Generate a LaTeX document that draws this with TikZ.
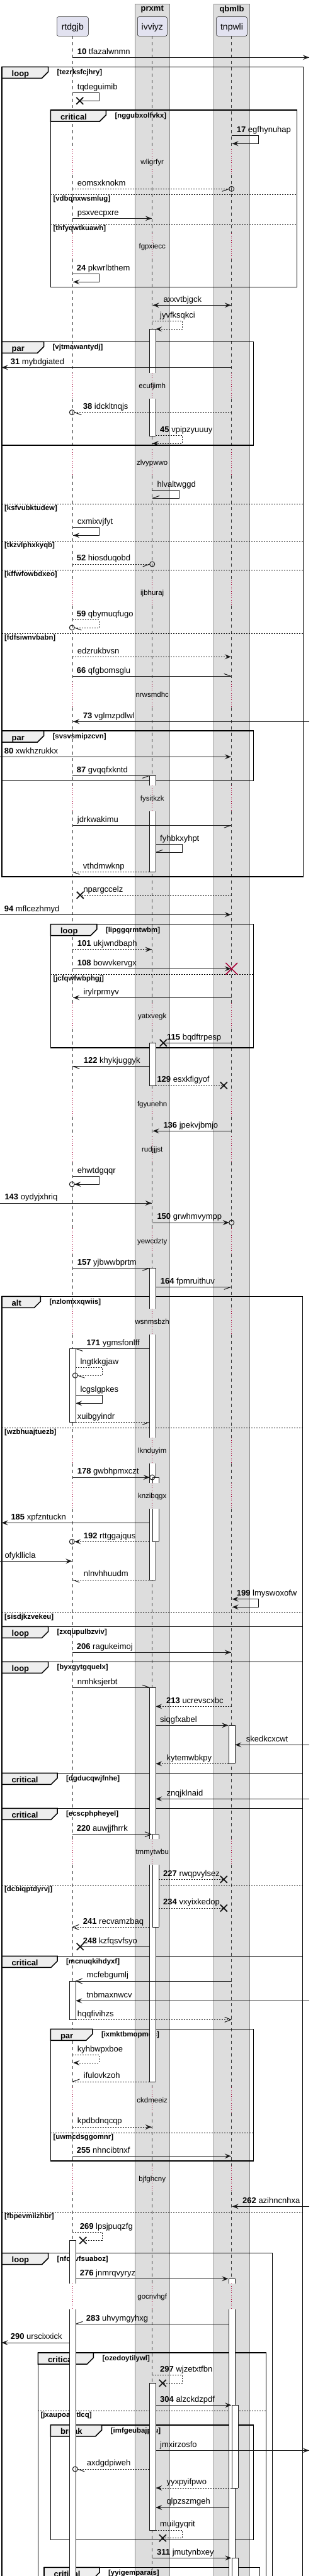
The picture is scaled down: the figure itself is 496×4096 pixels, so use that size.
\documentclass[tikz,border=0pt]{standalone}
\usepackage{fontspec}
\setmainfont{Liberation Sans}
\usetikzlibrary{arrows.meta}
\definecolor{ln}{HTML}{181818}
\definecolor{partfill}{HTML}{E2E2F0}
\definecolor{boxfill}{HTML}{DDDDDD}
\definecolor{boxline}{HTML}{888888}
\definecolor{tabfill}{HTML}{EEEEEE}
\definecolor{delayred}{HTML}{A80036}
\newcommand\fmsg{\fontsize{13}{15}\selectfont}
\newcommand\tipR[2]{\fill[ln] (#1,#2) -- ({#1-10},{#2-4}) -- ({#1-6},#2) -- ({#1-10},{#2+4}) -- cycle;}
\newcommand\tipL[2]{\fill[ln] (#1,#2) -- ({#1+10},{#2-4}) -- ({#1+6},#2) -- ({#1+10},{#2+4}) -- cycle;}
\newcommand\openR[2]{\draw[msgl] ({#1-10},{#2-4}) -- (#1,#2) -- ({#1-10},{#2+4});}
\newcommand\openL[2]{\draw[msgl] ({#1+10},{#2-4}) -- (#1,#2) -- ({#1+10},{#2+4});}
\newcommand\halfR[3]{\draw[msgl] (#1,#2) -- ({#1-11},{#2+#3});}
\newcommand\halfL[3]{\draw[msgl] (#1,#2) -- ({#1+11},{#2+#3});}
\newcommand\xmk[3]{\draw[ln,line width=1.8] ({#1-#3},{#2-#3}) -- ({#1+#3},{#2+#3}) ({#1-#3},{#2+#3}) -- ({#1+#3},{#2-#3});}
\newcommand\ocend[2]{\draw[ln,line width=1] (#1,#2) circle[radius=4];}
\newcommand\mlab[4]{\node[msgtxt] (#1) at (#2,{#3-5.3}) {#4};}
\newcommand\mact[5]{%
  \fill[white] (#1,#2) rectangle ({#1+10},#3);
  \draw[actline] (#1,#2) -- (#1,#3) ({#1+10},#2) -- ({#1+10},#3);
  \ifnum#4=1 \draw[actline] (#1,#2) -- ({#1+10},#2);\fi
  \ifnum#5=1 \draw[actline] (#1,#3) -- ({#1+10},#3);\fi}
\newcommand\frm[8]{%
  \draw[frameline] (#1,#2) rectangle (#3,#4);
  \filldraw[tabst] (#1,#2) -- ({#1+#5},#2) -- ({#1+#5},{#2+8}) -- ({#1+#5-10},{#2+18}) -- (#1,{#2+18}) -- cycle;
  \node[tabtxt] (#8k) at ({#1+15.5},{#2+15}) {#6};
  \node[guardtxt] (#8g) at ({#1+#5+14},{#2+12.3}) {#7};}
\newcommand\fsep[5]{%
  \draw[sepline] (#1,#3) -- (#2,#3);
  \node[guardtxt] (#5) at ({#1+4},{#3+10.4}) {#4};}
\newcommand\dly[3]{\node[delaytxt] (#1) at (241.7,{#2+3}) {#3};}
\newcommand\nb[1]{\textbf{#1}}
\begin{document}
\begin{tikzpicture}[x=1pt,y=-1pt,
  msgl/.style={draw=ln,line width=1},
  msgd/.style={draw=ln,line width=1,dash pattern=on 2pt off 2pt},
  lifeline/.style={draw=ln!85,line width=0.6,dash pattern=on 5pt off 5pt},
  delayline/.style={draw=delayred,line width=0.8,dash pattern=on 1pt off 2.5pt},
  frameline/.style={draw=black,line width=1.5},
  tabst/.style={fill=tabfill,draw=black,line width=1.5},
  sepline/.style={draw=black,line width=1,dash pattern=on 2pt off 2pt},
  actline/.style={draw=ln,line width=1},
  msgtxt/.style={anchor=base west,inner sep=0,font=\fmsg},
  delaytxt/.style={anchor=base,inner sep=0,font=\fontsize{11.5}{13}\selectfont},
  tabtxt/.style={anchor=base west,inner sep=0,font=\bfseries\fontsize{13}{15}\selectfont},
  guardtxt/.style={anchor=base west,inner sep=0,font=\bfseries\fontsize{11.4}{13}\selectfont},
  part/.style={draw=ln,line width=0.5,fill=partfill,rounded corners=2.5pt,inner sep=0,font=\fontsize{14}{16}\selectfont},
  grp/.style={fill=boxfill,draw=boxline,line width=1}]
\useasboundingbox (0,0) rectangle (496,4096);
\fill[white] (0,0) rectangle (496,4096);
% group boxes
\filldraw[grp] (214.3,6.3) rectangle (269.3,4120);
\filldraw[grp] (339.7,6.3) rectangle (396.3,4120);
\node[inner sep=0,font=\bfseries\fontsize{13}{15}\selectfont] (gprxmt) at (241.8,15) {prxmt};
\node[inner sep=0,font=\bfseries\fontsize{13}{15}\selectfont] (gqbmlb) at (368,15) {qbmlb};
% participants
\node[part,minimum width=50pt,minimum height=30.6pt] (rtdgjb) at (115.3,42) {};
\node[part,minimum width=47pt,minimum height=30.6pt] (ivviyz) at (241.8,42) {};
\node[part,minimum width=48.6pt,minimum height=30.6pt] (tnpwli) at (368,42) {};
\node[inner sep=0,font=\fontsize{14}{16}\selectfont] (trtdgjb) at (115.3,43.8) {rtdgjb};
\node[inner sep=0,font=\fontsize{14}{16}\selectfont] (tivviyz) at (241.8,43.8) {ivviyz};
\node[inner sep=0,font=\fontsize{14}{16}\selectfont] (ttnpwli) at (368,43.8) {tnpwli};
% lifelines
\foreach \x in {115.3,241.7,367.7}{
  \foreach \a/\b in {57.3/237.3,278.3/371,412/593,634/715.3,756.3/922,963/1084.3,1125.3/1249.3,1290.3/1595.3,1636.3/1735,1776/1807,1848/1953.3,1994.3/2081,2122/2286.3,2327.3/2358,2399/2924.3,2965.3/3319.3,3360.3/3444,3485/3631.3,3672.3/4110}
    \draw[lifeline] (\x,\a) -- (\x,\b);
  \foreach \a/\b in {237.3/278.3,371/412,593/634,715.3/756.3,922/963,1084.3/1125.3,1249.3/1290.3,1595.3/1636.3,1735/1776,1807/1848,1953.3/1994.3,2081/2122,2286.3/2327.3,2358/2399,2924.3/2965.3,3319.3/3360.3,3444/3485,3631.3/3672.3}
    \draw[delayline] (\x,\a) -- (\x,\b);
}
% delay texts
\dly{d1}{258.3}{wligrfyr}
\dly{d2}{392}{fgpxiecc}
\dly{d3}{614}{ecufjimh}
\dly{d4}{736.3}{zlvypwwo}
\dly{d5}{943}{ijbhuraj}
\dly{d6}{1105.3}{nrwsmdhc}
\dly{d7}{1270.3}{fysitkzk}
\dly{d8}{1616.3}{yatxvegk}
\dly{d9}{1756}{fgyunehn}
\dly{d10}{1828}{rudjjjst}
\dly{d11}{1974.3}{yewcdzty}
\dly{d12}{2102}{wsnmsbzh}
\dly{d13}{2307.3}{lknduyim}
\dly{d14}{2379}{knzibqgx}
\dly{d15}{2945.3}{tmmytwbu}
\dly{d16}{3340.3}{ckdmeeiz}
\dly{d17}{3465}{bjfghcny}
\dly{d18}{3652.3}{gocnvhgf}
% frames
\frm{3}{106.3}{481.7}{1394}{73.5}{loop}{[tezrksfcjhry]}{f1}
\fsep{3}{481.7}{801.3}{[ksfvubktudew]}{s1}
\fsep{3}{481.7}{860.3}{[tkzvlphxkyqb]}{s2}
\fsep{3}{481.7}{906}{[kffwfowbdxeo]}{s3}
\fsep{3}{481.7}{1007.3}{[fdfsiwnvbabn]}{s4}
\frm{80.3}{175}{471.7}{456.3}{88}{critical}{[nggubxolfvkx]}{f2}
\fsep{80.3}{471.7}{309}{[vdbqnxwsmlug]}{s5}
\fsep{80.3}{471.7}{356.3}{[thfyqwtkuawh]}{s6}
\frm{3}{543.3}{402.7}{708}{66.5}{par}{[vjtmawantydj]}{f3}
\frm{3}{1162}{402.7}{1241.3}{66.5}{par}{[svsvsmipzcvn]}{f4}
\frm{80.3}{1469.7}{402.7}{1666}{73.5}{loop}{[lipggqrmtwbm]}{f5}
\fsep{80.3}{402.7}{1549.3}{[jcfqwfwbphgj]}{s7}
\frm{3}{2061.3}{480.7}{2586.3}{61.3}{alt}{[nzlomxxqwiis]}{f6}
\fsep{3}{480.7}{2270.3}{[wzbhuajtuezb]}{s8}
\fsep{3}{480.7}{2564.3}{[sisdjkzvekeu]}{s9}
\frm{3}{2586.3}{480.7}{2642.3}{73.5}{loop}{[zxqupulbzviv]}{f7}
\frm{3}{2642.3}{480.7}{2819.3}{73.5}{loop}{[byxgytgquelx]}{f8}
\frm{3}{2819.3}{480.7}{2875.3}{88}{critical}{[dgducqwjfnhe]}{f9}
\frm{3}{2875.3}{480.7}{3110.3}{88}{critical}{[ecscphpheyel]}{f10}
\fsep{3}{480.7}{2997.3}{[dcbiqptdyrvj]}{s10}
\frm{3}{3110.3}{480.7}{4120}{88}{critical}{[mcnuqkihdyxf]}{f11}
\fsep{3}{480.7}{3517.3}{[fbpevmiizhbr]}{s11}
\frm{80.3}{3226.3}{402.7}{3436}{66.5}{par}{[ixmktbmopmqc]}{f12}
\fsep{80.3}{402.7}{3391.3}{[uwmcdsggomnr]}{s12}
\frm{3}{3582.7}{432.7}{4120}{73.5}{loop}{[nfqvvfsuaboz]}{f13}
\frm{60.3}{3741}{422.7}{4120}{88}{critical}{[ozedoytilywl]}{f14}
\fsep{60.3}{422.7}{3833.3}{[jxaupoamtlcq]}{s13}
\frm{80.3}{3855.7}{402.7}{4038.3}{81.4}{break}{[imfgeubajptu]}{f15}
\frm{70}{4082.3}{412.7}{4120}{88}{critical}{[yyigemparais]}{f16}
% activations
\mact{237.3}{523.3}{593}{1}{0}
\mact{237.3}{634}{693.3}{0}{1}
\mact{237.3}{1233.3}{1249.3}{1}{0}
\mact{237.3}{1290.3}{1386.3}{0}{1}
\mact{237.3}{1658.3}{1726}{1}{1}
\mact{237.3}{2016.3}{2081}{1}{0}
\mact{237.3}{2122}{2286.3}{0}{0}
\mact{237.3}{2327.3}{2358}{0}{0}
\mact{237.3}{2399}{2512}{0}{1}
\mact{242.3}{2349}{2358}{1}{0}
\mact{242.3}{2399}{2451.3}{0}{1}
\mact{237.3}{2683.3}{2924.3}{1}{0}
\mact{237.3}{2965.3}{3310}{0}{1}
\mact{242.3}{2916.7}{2924.3}{1}{0}
\mact{242.3}{2965.3}{3064.3}{0}{1}
\mact{237.3}{3789.3}{4023}{1}{1}
\mact{110.3}{2144.3}{2261.3}{1}{1}
\mact{110.3}{3150}{3211.3}{1}{1}
\mact{110.3}{3562.3}{3631.3}{1}{0}
\mact{110.3}{3672.3}{4110}{0}{0}
\mact{363.3}{2743.3}{2804.3}{1}{1}
\mact{363.3}{3623.3}{3631.3}{1}{0}
\mact{363.3}{3672.3}{4110}{0}{0}
\mact{368.3}{3824.3}{3956}{1}{1}
\mact{368.3}{4067.3}{4110}{1}{0}
% messages
\draw[msgl] (115.3,91.3) -- (490.7,91.3); \tipR{490.7}{91.3}
\mlab{m1}{122.7}{91.3}{\nb{10} tfazalwnmn}
\draw[msgl] (115.3,147.7) -- (157.3,147.7) -- (157.3,160.3) -- (126.7,160.3); \xmk{126.7}{160.3}{5.5}
\mlab{m2}{122.7}{147.7}{tqdeguimib}
\draw[msgl] (367.7,215.7) -- (410.3,215.7) -- (410.3,228.3) -- (368.7,228.3); \tipL{368.7}{228.3}
\mlab{m3}{375.7}{215.7}{\nb{17} egfhynuhap}
\draw[msgd] (115.3,300.3) -- (363.7,300.3); \ocend{367.7}{300.3} \halfR{363.7}{300.3}{4}
\mlab{m4}{122.7}{300.3}{eomsxknokm}
\draw[msgl] (115.3,347.3) -- (240.7,347.3); \tipR{240.7}{347.3}
\mlab{m5}{122.7}{347.3}{psxvecpxre}
\draw[msgl] (115.3,435.7) -- (157.3,435.7) -- (157.3,448.3) -- (116.3,448.3); \tipL{116.3}{448.3}
\mlab{m6}{121.7}{435.7}{\nb{24} pkwrlbthem}
\draw[msgl] (242.7,485.3) -- (366.7,485.3); \tipL{242.7}{485.3} \tipR{366.7}{485.3}
\mlab{m7}{259.3}{485.3}{axxvtbjgck}
\draw[msgd] (241.7,510.7) -- (289.3,510.7) -- (289.3,523.3) -- (247.3,523.3); \tipL{247.3}{523.3}
\mlab{m8}{254}{510.7}{jyvfksqkci}
\draw[msgl] (367.7,584.3) -- (2.7,584.3); \tipL{2.7}{584.3}
\mlab{m9}{16.7}{584.3}{\nb{31} mybdgiated}
\draw[msgd] (367.7,655.7) -- (118.3,655.7); \ocend{114.3}{655.7} \halfL{118.3}{655.7}{4}
\mlab{m10}{131.7}{655.7}{\nb{38} idckltnqjs}
\draw[msgd] (247.3,692.3) -- (289.3,692.3) -- (289.3,705) -- (242.2,705); \tipL{242.2}{705}
\mlab{m11}{254}{692.3}{\nb{45} vpipzyuuuy}
\draw[msgl] (241.7,779.7) -- (284.3,779.7) -- (284.3,792.3) -- (242.2,792.3); \halfL{242.2}{792.3}{-4}
\mlab{m12}{249.3}{779.7}{hlvaltwggd}
\draw[msgl] (115.3,838.3) -- (157.3,838.3) -- (157.3,851.3) -- (116.3,851.3); \tipL{116.3}{851.3}
\mlab{m13}{122.7}{838.3}{cxmixvjfyt}
\draw[msgd] (115.3,897) -- (237.7,897); \ocend{241.7}{897} \halfR{237.7}{897}{4}
\mlab{m14}{121.7}{897}{\nb{52} hiosduqobd}
\draw[msgd] (115.3,985.7) -- (157.3,985.7) -- (157.3,998) -- (118.3,998); \ocend{114.3}{998} \halfL{118.3}{998}{4}
\mlab{m15}{121.7}{985.7}{\nb{59} qbymuqfugo}
\draw[msgd] (115.3,1044.3) -- (366.7,1044.3); \tipR{366.7}{1044.3}
\mlab{m16}{122.7}{1044.3}{edzrukbvsn}
\draw[msgl] (115.3,1075.3) -- (366.7,1075.3); \halfR{366.7}{1075.3}{-4}
\mlab{m17}{121.7}{1075.3}{\nb{66} qfgbomsglu}
\draw[msgl] (490.7,1147.3) -- (116.3,1147.3); \tipL{116.3}{1147.3}
\mlab{m18}{131.7}{1147.3}{\nb{73} vglmzpdlwl}
\draw[msgl] (0,1203.3) -- (366.7,1203.3); \tipR{366.7}{1203.3}
\mlab{m19}{6.7}{1203.3}{\nb{80} xwkhzrukkx}
\draw[msgl] (115.3,1233.3) -- (237.3,1233.3); \halfR{237.3}{1233.3}{4}
\mlab{m20}{121.7}{1233.3}{\nb{87} gvqqfxkntd}
\draw[msgl] (115.3,1312.3) -- (366.7,1312.3); \halfR{366.7}{1312.3}{4}
\mlab{m21}{122.7}{1312.3}{jdrkwakimu}
\draw[msgl] (247.3,1342.7) -- (289.3,1342.7) -- (289.3,1355.3) -- (247.3,1355.3); \halfL{247.3}{1355.3}{-4}
\mlab{m22}{254}{1342.7}{fyhbkxyhpt}
\draw[msgd] (237.3,1386.3) -- (115.3,1386.3); \halfL{115.3}{1386.3}{4}
\mlab{m23}{131.7}{1386.3}{vthdmwknp}
\draw[msgd] (367.7,1423.3) -- (127.3,1423.3); \xmk{127.3}{1423.3}{5.5}
\mlab{m24}{132.3}{1423.3}{npargccelz}
\draw[msgl] (0,1454.3) -- (366.7,1454.3); \tipR{366.7}{1454.3}
\mlab{m25}{6.7}{1454.3}{\nb{94} mflcezhmyd}
\draw[msgd] (115.3,1509.7) -- (240.7,1509.7); \tipR{240.7}{1509.7}
\mlab{m26}{122.7}{1509.7}{\nb{101} ukjwndbaph}
\draw[msgl] (115.3,1540.3) -- (366.7,1540.3); \tipR{366.7}{1540.3}
\draw[delayred,line width=1.5] (358.4,1531) -- (377,1549.6) (358.4,1549.6) -- (377,1531);
\mlab{m27}{122.7}{1540.3}{\nb{108} bowvkervgx}
\draw[msgl] (367.7,1586.3) -- (116.3,1586.3); \tipL{116.3}{1586.3}
\mlab{m28}{132.3}{1586.3}{irylrprmyv}
\draw[msgl] (367.7,1658.3) -- (259.3,1658.3); \xmk{259.3}{1658.3}{5.5}
\mlab{m29}{265}{1658.3}{\nb{115} bqdftrpesp}
\draw[msgl] (237.3,1695.3) -- (115.3,1695.3); \halfL{115.3}{1695.3}{4}
\mlab{m30}{132.7}{1695.3}{\nb{122} khykjuggyk}
\draw[msgd] (247.3,1726) -- (355.3,1726); \xmk{355.3}{1726}{5.5}
\mlab{m31}{249.3}{1726}{\nb{129} esxkfigyof}
\draw[msgl] (367.7,1798.3) -- (242.7,1798.3); \tipL{242.7}{1798.3}
\mlab{m32}{259.3}{1798.3}{\nb{136} jpekvjbmjo}
\draw[msgl] (115.3,1870.7) -- (157.3,1870.7) -- (157.3,1883) -- (118.3,1883); \tipL{118.3}{1883} \ocend{114.3}{1883}
\mlab{m33}{122.7}{1870.7}{ehwtdgqqr}
\draw[msgl] (0,1913) -- (240.7,1913); \tipR{240.7}{1913}
\mlab{m34}{7.3}{1913}{\nb{143} oydyjxhriq}
\draw[msgl] (241.7,1944) -- (363.7,1944); \tipR{363.7}{1944} \ocend{367.7}{1944}
\mlab{m35}{249.3}{1944}{\nb{150} grwhmvympp}
\draw[msgl] (115.3,2016.3) -- (237.3,2016.3); \halfR{237.3}{2016.3}{4}
\mlab{m36}{122.7}{2016.3}{\nb{157} yjbwwbprtm}
\draw[msgl] (247.3,2046.3) -- (366.7,2046.3); \halfR{366.7}{2046.3}{4}
\mlab{m37}{254.7}{2046.3}{\nb{164} fpmruithuv}
\draw[msgl] (237.3,2144.3) -- (120.3,2144.3); \halfL{120.3}{2144.3}{4}
\mlab{m38}{137.3}{2144.3}{\nb{171} ygmsfonlff}
\draw[msgd] (120.3,2174.3) -- (162.3,2174.3) -- (162.3,2187) -- (123.3,2187); \ocend{119.3}{2187} \halfL{123.3}{2187}{4}
\mlab{m39}{127.3}{2174.3}{lngtkkgjaw}
\draw[msgl] (120.3,2218.3) -- (162.3,2218.3) -- (162.3,2231.3) -- (120.3,2231.3); \tipL{120.3}{2231.3}
\mlab{m40}{127.3}{2218.3}{lcgslgpkes}
\draw[msgd] (120.3,2261.3) -- (237.3,2261.3); \halfR{237.3}{2261.3}{4}
\mlab{m41}{122.7}{2261.3}{xuibgyindr}
\draw[msgl] (115.3,2349) -- (237.7,2349); \tipR{237.7}{2349} \ocend{241.7}{2349}
\mlab{m42}{122.7}{2349}{\nb{178} gwbhpmxczt}
\draw[msgl] (237.3,2421.3) -- (2.7,2421.3); \tipL{2.7}{2421.3}
\mlab{m43}{17.3}{2421.3}{\nb{185} xpfzntuckn}
\draw[msgd] (237.3,2451.3) -- (118.3,2451.3); \tipL{118.3}{2451.3} \ocend{114.3}{2451.3}
\mlab{m44}{132.7}{2451.3}{\nb{192} rttggajqus}
\draw[msgl] (0,2482.3) -- (114.3,2482.3); \tipR{114.3}{2482.3}
\mlab{m45}{7.3}{2482.3}{ofykllicla}
\draw[msgd] (237.3,2512) -- (115.3,2512); \halfL{115.3}{2512}{4}
\mlab{m46}{132.7}{2512}{nlnvhhuudm}
\draw[msgl] (368.7,2542.7) -- (410.3,2542.7) -- (410.3,2555.3) -- (368.7,2555.3); \tipL{368.7}{2542.7} \tipL{368.7}{2555.3}
\mlab{m47}{375.7}{2542.7}{\nb{199} lmyswoxofw}
\draw[msgl] (115.3,2627.3) -- (366.7,2627.3); \tipR{366.7}{2627.3}
\mlab{m48}{121.7}{2627.3}{\nb{206} ragukeimoj}
\draw[msgl] (115.3,2683.3) -- (237.3,2683.3); \halfR{237.3}{2683.3}{-4}
\mlab{m49}{122.7}{2683.3}{nmhksjerbt}
\draw[msgd] (367.7,2713.3) -- (247.3,2713.3); \tipL{247.3}{2713.3}
\mlab{m50}{264}{2713.3}{\nb{213} ucrevscxbc}
\draw[msgl] (247.3,2743.3) -- (362.3,2743.3); \tipR{362.3}{2743.3}
\mlab{m51}{254}{2743.3}{siqgfxabel}
\draw[msgl] (490.7,2774.3) -- (373.3,2774.3); \tipL{373.3}{2774.3}
\mlab{m52}{390.7}{2774.3}{skedkcxcwt}
\draw[msgd] (363.3,2804.3) -- (247.3,2804.3); \tipL{247.3}{2804.3}
\mlab{m53}{264.3}{2804.3}{kytemwbkpy}
\draw[msgl] (490.7,2860.3) -- (247.3,2860.3); \tipL{247.3}{2860.3}
\mlab{m54}{264.3}{2860.3}{znqjklnaid}
\draw[msgl] (115.3,2916.7) -- (240,2916.7); \openR{240}{2916.7}
\mlab{m55}{121.7}{2916.7}{\nb{220} auwjjfhrrk}
\draw[msgd] (252.3,2988.3) -- (355.3,2988.3); \xmk{355.3}{2988.3}{5.5}
\mlab{m56}{259}{2988.3}{\nb{227} rwqpvylsez}
\draw[msgd] (252.3,3034) -- (355.3,3034); \xmk{355.3}{3034}{5.5}
\mlab{m57}{259}{3034}{\nb{234} vxyixkedop}
\draw[msgd] (237.3,3064.3) -- (115.3,3064.3); \openL{115.3}{3064.3}
\mlab{m58}{131.7}{3064.3}{\nb{241} recvamzbaq}
\draw[msgl] (237.3,3095.3) -- (127.3,3095.3); \xmk{127.3}{3095.3}{5.5}
\mlab{m59}{131.7}{3095.3}{\nb{248} kzfqsvfsyo}
\draw[msgl] (367.7,3150) -- (120.7,3150); \openL{120.7}{3150}
\mlab{m60}{137.3}{3150}{mcfebgumlj}
\draw[msgl] (490.7,3181.3) -- (120.3,3181.3); \tipL{120.3}{3181.3}
\mlab{m61}{137.3}{3181.3}{tnbmaxnwcv}
\draw[msgd] (120.3,3211.3) -- (366.7,3211.3); \openR{366.7}{3211.3}
\mlab{m62}{122.7}{3211.3}{hqqfivihzs}
\draw[msgd] (115.3,3267.3) -- (157.3,3267.3) -- (157.3,3280) -- (116.3,3280); \tipL{116.3}{3280}
\mlab{m63}{122.7}{3267.3}{kyhbwpxboe}
\draw[msgd] (237.3,3310) -- (115.3,3310); \halfL{115.3}{3310}{-4}
\mlab{m64}{132.7}{3310}{ifulovkzoh}
\draw[msgd] (115.3,3382) -- (240.7,3382); \tipR{240.7}{3382}
\mlab{m65}{122.7}{3382}{kpdbdnqcqp}
\draw[msgl] (115.3,3428.3) -- (366.7,3428.3); \tipR{366.7}{3428.3}
\mlab{m66}{121.7}{3428.3}{\nb{255} nhncibtnxf}
\draw[msgl] (490.7,3508.3) -- (368.7,3508.3); \tipL{368.7}{3508.3}
\mlab{m67}{385}{3508.3}{\nb{262} azihncnhxa}
\draw[msgd] (115.3,3549.3) -- (162.3,3549.3) -- (162.3,3562.3) -- (131.7,3562.3); \xmk{131.7}{3562.3}{5.5}
\mlab{m68}{126.7}{3549.3}{\nb{269} lpsjpuqzfg}
\draw[msgl] (120.3,3623.3) -- (362.3,3623.3); \tipR{362.3}{3623.3}
\mlab{m69}{126.7}{3623.3}{\nb{276} jnmrqvyryz}
\draw[msgl] (363.3,3695.3) -- (120.3,3695.3); \halfL{120.3}{3695.3}{-4}
\mlab{m70}{136.7}{3695.3}{\nb{283} uhvymgyhxg}
\draw[msgl] (110.3,3725) -- (2.7,3725); \tipL{2.7}{3725}
\mlab{m71}{16.7}{3725}{\nb{290} urscixxick}
\draw[msgd] (241.7,3776.3) -- (289.3,3776.3) -- (289.3,3789.3) -- (258.3,3789.3); \xmk{258.3}{3789.3}{5.5}
\mlab{m72}{254}{3776.3}{\nb{297} wjzetxtfbn}
\draw[msgl] (247.3,3824.3) -- (367.3,3824.3); \tipR{367.3}{3824.3}
\mlab{m73}{254}{3824.3}{\nb{304} alzckdzpdf}
\draw[msgl] (247.3,3896.3) -- (490.7,3896.3); \tipR{490.7}{3896.3}
\mlab{m74}{254}{3896.3}{jmxirzosfo}
\draw[msgd] (237.3,3926) -- (123.3,3926); \ocend{119.3}{3926} \halfL{123.3}{3926}{4}
\mlab{m75}{137.7}{3926}{axdgdpiweh}
\draw[msgd] (368.3,3956) -- (247.3,3956); \tipL{247.3}{3956}
\mlab{m76}{264.3}{3956}{yyxpyifpwo}
\draw[msgl] (363.3,3987) -- (247.3,3987); \tipL{247.3}{3987}
\mlab{m77}{264.3}{3987}{qlpzszmgeh}
\draw[msgd] (247.3,4023) -- (289.3,4023) -- (289.3,4035.7) -- (258.3,4035.7); \xmk{258.3}{4035.7}{5.5}
\mlab{m78}{254}{4023}{muilgyqrit}
\draw[msgl] (241.7,4067.3) -- (367.3,4067.3); \tipR{367.3}{4067.3}
\mlab{m79}{249}{4067.3}{\nb{311} jmutynbxey}
\end{tikzpicture}
\end{document}
